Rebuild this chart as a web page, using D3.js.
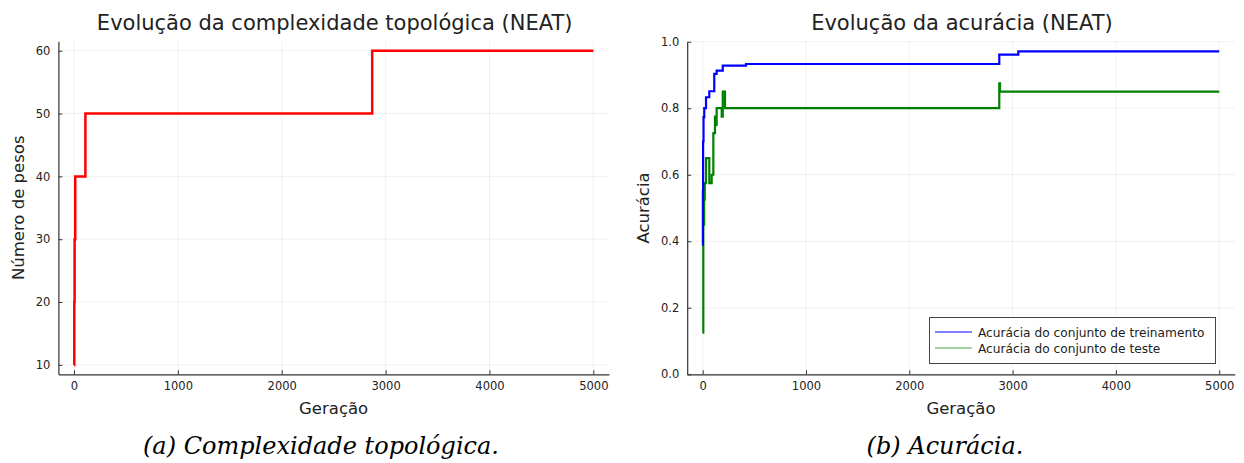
<!DOCTYPE html>
<html><head><meta charset="utf-8">
<script src="https://cdn.jsdelivr.net/npm/d3@7"></script>
<style>body{margin:0;background:#fff}svg{display:block}</style>
</head><body>
<svg id="c" width="1244" height="463"></svg>
<script>
// Left chart data: topological complexity
const genW = [0, 3, 6, 12, 110, 2871, 5000];
const weights = [10, 20, 30, 40, 50, 60, 60];
// Right chart data: accuracy
const genTrain = [0, 2, 4, 8, 15, 32, 64, 112, 135, 194, 419, 2871, 3055, 5000];
const accTrain = [0.388, 0.55, 0.7, 0.773, 0.8, 0.833, 0.851, 0.903, 0.913, 0.928, 0.933, 0.961, 0.971, 0.971];
const genTest = [0, 6, 14, 20, 32, 64, 87, 103, 119, 125, 135, 184, 194, 216, 2871, 2878, 5000];
const accTest = [0.125, 0.45, 0.525, 0.575, 0.65, 0.575, 0.6, 0.725, 0.775, 0.75, 0.8, 0.775, 0.85, 0.8, 0.875, 0.85, 0.85];
const xTicks = [0, 1000, 2000, 3000, 4000, 5000];
const yTicksL = [10, 20, 30, 40, 50, 60];
const yTicksR = [0, 0.2, 0.4, 0.6, 0.8, 1.0];
const legendLabels = ["Acurácia do conjunto de treinamento", "Acurácia do conjunto de teste"];

const svg = d3.select("#c");
const font = "DejaVu Sans, sans-serif";

function panel(o) {
  const g = svg.append("g");
  const x = d3.scaleLinear().domain([-150, 5150]).range([o.left, o.right]);
  const y = d3.scaleLinear().domain(o.ydom).range([o.bottom, o.top]);
  // grid
  g.append("g").selectAll("line").data(xTicks).join("line")
    .attr("x1", d => x(d)).attr("x2", d => x(d)).attr("y1", o.top).attr("y2", o.bottom)
    .attr("stroke", "#000").attr("stroke-opacity", 0.1).attr("stroke-width", 0.6);
  g.append("g").selectAll("line").data(o.yticks).join("line")
    .attr("x1", o.left).attr("x2", o.right).attr("y1", d => y(d)).attr("y2", d => y(d))
    .attr("stroke", "#000").attr("stroke-opacity", 0.1).attr("stroke-width", 0.6);
  // axes
  const xa = d3.axisBottom(x).tickValues(xTicks).tickFormat(d3.format("d")).tickSizeInner(-4).tickSizeOuter(0).tickPadding(8);
  const ya = d3.axisLeft(y).tickValues(o.yticks).tickFormat(o.fmt).tickSizeInner(-4).tickSizeOuter(0).tickPadding(8);
  const gx = g.append("g").attr("transform", `translate(0,${o.bottom})`).call(xa);
  const gy = g.append("g").attr("transform", `translate(${o.left},0)`).call(ya);
  [gx, gy].forEach(a => {
    a.select(".domain").attr("stroke", "#333").attr("stroke-width", 1.2);
    a.selectAll(".tick line").attr("stroke", "#333").attr("stroke-width", 1);
    a.selectAll("text").attr("font-family", font).attr("font-size", 11.5).attr("fill", "#222");
  });
  // titles
  g.append("text").attr("x", (o.left + o.right) / 2 + 1).attr("y", 30).attr("text-anchor", "middle")
    .attr("font-family", font).attr("font-size", 21).attr("fill", "#222").text(o.title);
  g.append("text").attr("x", (o.left + o.right) / 2).attr("y", 414).attr("text-anchor", "middle")
    .attr("font-family", font).attr("font-size", 16.5).attr("fill", "#222").text("Geração");
  g.append("text").attr("transform", `translate(${o.ylx},${(o.top + o.bottom) / 2}) rotate(-90)`)
    .attr("text-anchor", "middle").attr("font-family", font).attr("font-size", 16.5).attr("fill", "#222").text(o.ylabel);
  // caption
  g.append("text").attr("x", o.capx).attr("y", 454).attr("text-anchor", "middle")
    .attr("font-family", "DejaVu Serif, Liberation Serif, serif").attr("font-style", "italic")
    .attr("font-size", 24).attr("fill", "#000").text(o.caption);
  // series
  const line = d3.line().x(d => x(d[0])).y(d => y(d[1])).curve(d3.curveStepAfter);
  o.series.forEach(s => {
    g.append("path").datum(d3.zip(s.gx, s.gy)).attr("d", line)
      .attr("fill", "none").attr("stroke", s.color).attr("stroke-width", s.w);
  });
  return {g, x, y};
}

panel({
  left: 58.4, right: 608.9, top: 41.3, bottom: 374.3, ydom: [8.5, 61.5], yticks: yTicksL,
  fmt: d3.format("d"), title: "Evolução da complexidade topológica (NEAT)", ylabel: "Número de pesos",
  ylx: 24, capx: 321, caption: "(a) Complexidade topológica.",
  series: [{gx: genW, gy: weights, color: "#ff0000", w: 2.5}]
});

panel({
  left: 687.2, right: 1234.7, top: 41.7, bottom: 374.3, ydom: [0, 1], yticks: yTicksR,
  fmt: d3.format(".1f"), title: "Evolução da acurácia (NEAT)", ylabel: "Acurácia",
  ylx: 649, capx: 945, caption: "(b) Acurácia.",
  series: [{gx: genTest, gy: accTest, color: "#008000", w: 2.2}, {gx: genTrain, gy: accTrain, color: "#0000ff", w: 2.2}]
});

// legend
const lg = svg.append("g");
lg.append("rect").attr("x", 929.5).attr("y", 317.5).attr("width", 286).attr("height", 46)
  .attr("fill", "#fff").attr("stroke", "#444").attr("stroke-width", 1);
const lcol = ["#0000ff", "#008000"];
legendLabels.forEach((t, i) => {
  const yy = 332 + i * 16;
  lg.append("line").attr("x1", 935).attr("x2", 972).attr("y1", yy).attr("y2", yy)
    .attr("stroke", lcol[i]).attr("stroke-width", 1).attr("stroke-opacity", i ? 0.7 : 1);
  lg.append("text").attr("x", 978).attr("y", yy + 4.5).attr("font-family", font).attr("font-size", 12.2)
    .attr("fill", "#222").text(t);
});
</script>
</body></html>
